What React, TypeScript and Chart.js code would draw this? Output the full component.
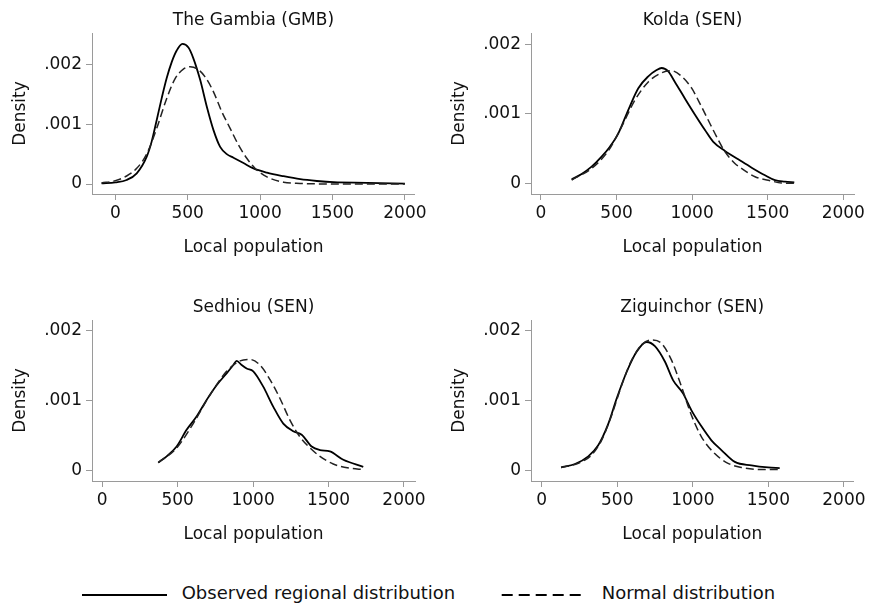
import React, { useEffect, useRef } from 'react';
import { Chart, registerables } from 'chart.js';

Chart.register(...registerables);

// ---------------- data ----------------
const xTickValues = [0, 500, 1000, 1500, 2000];
const yTickValues = [0, 0.001, 0.002];
const yTickLabels = ['0', '.001', '.002'];

const panelTitles = ['The Gambia (GMB)', 'Kolda (SEN)', 'Sedhiou (SEN)', 'Ziguinchor (SEN)'];
const seriesLabels = ['Observed regional distribution', 'Normal distribution'];
const xAxisTitle = 'Local population';
const yAxisTitle = 'Density';

// The Gambia (GMB)
const gmbObsX = [-95, 0, 78, 148, 217, 251, 286, 320, 355, 390, 424, 463, 505, 539, 586, 632, 678, 724, 770, 816, 885, 954, 1047, 1162, 1277, 1392, 1508, 1738, 2000];
const gmbObsY = [0.000011, 0.000028, 0.000067, 0.000178, 0.000457, 0.000708, 0.00107, 0.00143, 0.00177, 0.00204, 0.00223, 0.00234, 0.00228, 0.0021, 0.00174, 0.00129, 0.0009, 0.00062, 0.0005, 0.00044, 0.00035, 0.00026, 0.00019, 0.00013, 0.00008, 0.00005, 0.00003, 0.00002, 0.000005];
const gmbNormX = [-95, 0, 78, 148, 217, 286, 355, 413, 470, 516, 562, 620, 678, 735, 793, 851, 908, 966, 1047, 1162, 1277, 1508, 2000];
const gmbNormY = [0.000017, 0.000056, 0.000134, 0.000262, 0.000502, 0.000931, 0.00143, 0.00176, 0.00192, 0.00196, 0.00193, 0.00179, 0.00154, 0.00121, 0.00093, 0.00065, 0.00043, 0.00026, 0.00012, 0.00003, 0.00001, 0, 0];

// Kolda (SEN)
const koldaObsX = [203, 269, 335, 401, 456, 512, 578, 644, 710, 765, 798, 842, 886, 953, 1019, 1085, 1140, 1217, 1305, 1394, 1482, 1548, 1614, 1676];
const koldaObsY = [0.000062, 0.000139, 0.000244, 0.000388, 0.000531, 0.000722, 0.00106, 0.00137, 0.00154, 0.00163, 0.00166, 0.00161, 0.00146, 0.00122, 0.00099, 0.00077, 0.0006, 0.00047, 0.00035, 0.00023, 0.00012, 0.00005, 0.00003, 0.00002];
const koldaNormX = [203, 335, 445, 534, 622, 710, 798, 864, 931, 997, 1063, 1107, 1151, 1217, 1283, 1327, 1416, 1504, 1592, 1676];
const koldaNormY = [0.000053, 0.00022, 0.00047, 0.00082, 0.0012, 0.00146, 0.00159, 0.00162, 0.00154, 0.00137, 0.0011, 0.00091, 0.00072, 0.00046, 0.00029, 0.00022, 0.0001, 0.00005, 0.00001, 0.000005];

// Sedhiou (SEN)
const sedhiouObsX = [371, 427, 493, 559, 625, 692, 758, 824, 869, 891, 924, 957, 1001, 1067, 1134, 1200, 1266, 1322, 1388, 1443, 1509, 1598, 1730];
const sedhiouObsY = [0.00011, 0.0002, 0.00034, 0.00058, 0.00077, 0.00101, 0.00122, 0.00139, 0.00151, 0.00157, 0.00151, 0.00146, 0.00142, 0.0012, 0.00091, 0.00067, 0.00056, 0.00051, 0.00034, 0.00029, 0.00027, 0.00015, 0.00005];
const sedhiouNormX = [371, 493, 603, 714, 824, 913, 979, 1045, 1112, 1178, 1244, 1310, 1377, 1443, 1531, 1642, 1730];
const sedhiouNormY = [0.00011, 0.00032, 0.00067, 0.00108, 0.00142, 0.00157, 0.00159, 0.00151, 0.0013, 0.00103, 0.00072, 0.00048, 0.00032, 0.0002, 0.00009, 0.00003, 0.00001];

// Ziguinchor (SEN)
const ziguinchorObsX = [128, 220, 308, 374, 441, 496, 562, 628, 694, 749, 815, 870, 936, 991, 1057, 1123, 1189, 1278, 1388, 1498, 1575];
const ziguinchorObsY = [0.00004, 0.00009, 0.0002, 0.00036, 0.00067, 0.00103, 0.00141, 0.0017, 0.00184, 0.00178, 0.00156, 0.00129, 0.0011, 0.00086, 0.00063, 0.00043, 0.00029, 0.00012, 0.00007, 0.00004, 0.00003];
const ziguinchorNormX = [128, 242, 330, 396, 463, 529, 595, 661, 727, 793, 859, 925, 991, 1057, 1145, 1233, 1322, 1454, 1575];
const ziguinchorNormY = [0.00004, 0.0001, 0.00022, 0.00043, 0.00079, 0.00122, 0.00158, 0.0018, 0.00187, 0.00182, 0.00158, 0.0012, 0.00079, 0.00048, 0.00024, 0.0001, 0.00004, 0.00001, 0.00001];

const panelSeries = [
  { obsX: gmbObsX, obsY: gmbObsY, normX: gmbNormX, normY: gmbNormY },
  { obsX: koldaObsX, obsY: koldaObsY, normX: koldaNormX, normY: koldaNormY },
  { obsX: sedhiouObsX, obsY: sedhiouObsY, normX: sedhiouNormX, normY: sedhiouNormY },
  { obsX: ziguinchorObsX, obsY: ziguinchorObsY, normX: ziguinchorNormX, normY: ziguinchorNormY },
];

// ---------------- layout ----------------
const FONT = "'DejaVu Sans', Verdana, sans-serif";
const AXIS_COLOR = '#9a9a9a';
const TEXT_COLOR = '#111';
const Y_AXIS_W = 92;
const TITLE_H = 33;
const X_AXIS_H = 70;
const PAD_R = 15;

// plot area rectangles (page px) and axis ranges
const panelBoxes = [
  { left: 92, top: 33, right: 415, bottom: 194, xMin: -161, xMax: 2069, yMin: -0.000167, yMax: 0.002523 },
  { left: 531, top: 33, right: 854, bottom: 194, xMin: -66, xMax: 2071, yMin: -0.000148, yMax: 0.002162 },
  { left: 92, top: 320, right: 415, bottom: 481, xMin: -68, xMax: 2073, yMin: -0.000154, yMax: 0.002156 },
  { left: 531, top: 320, right: 854, bottom: 481, xMin: -71, xMax: 2064, yMin: -0.000154, yMax: 0.002156 },
];

function toPoints(xs: number[], ys: number[]) {
  return xs.map((x, i) => ({ x, y: ys[i] }));
}

function Panel({ index }: { index: number }) {
  const ref = useRef<HTMLCanvasElement | null>(null);
  const box = panelBoxes[index];
  const s = panelSeries[index];
  const width = Y_AXIS_W + (box.right - box.left) + PAD_R;
  const height = TITLE_H + (box.bottom - box.top) + X_AXIS_H;

  useEffect(() => {
    if (!ref.current) return;
    const chart = new Chart(ref.current, {
      type: 'line',
      data: {
        datasets: [
          {
            label: seriesLabels[1],
            data: toPoints(s.normX, s.normY),
            borderColor: '#222',
            borderWidth: 1.5,
            borderDash: [8, 4],
            pointRadius: 0,
            fill: false,
            cubicInterpolationMode: 'monotone',
          },
          {
            label: seriesLabels[0],
            data: toPoints(s.obsX, s.obsY),
            borderColor: '#000',
            borderWidth: 1.8,
            pointRadius: 0,
            fill: false,
            cubicInterpolationMode: 'monotone',
          },
        ],
      },
      options: {
        responsive: false,
        animation: false,
        devicePixelRatio: 1,
        layout: { padding: { left: 0, top: 0, right: PAD_R, bottom: 0 } },
        plugins: {
          legend: { display: false },
          tooltip: { enabled: false },
          title: {
            display: true,
            text: panelTitles[index],
            fullSize: false,
            color: TEXT_COLOR,
            font: { family: FONT, size: 17, weight: 'normal', lineHeight: 1.1 },
            padding: { top: 11.2, bottom: 3.1 },
          },
        },
        scales: {
          x: {
            type: 'linear',
            min: box.xMin,
            max: box.xMax,
            afterBuildTicks: (axis: any) => {
              axis.ticks = xTickValues.map((v) => ({ value: v }));
            },
            afterFit: (axis: any) => {
              axis.height = X_AXIS_H;
            },
            ticks: {
              color: TEXT_COLOR,
              font: { family: FONT, size: 17 },
              padding: 3,
              maxRotation: 0,
              autoSkip: false,
              callback: (v: any) => String(v),
            },
            grid: { display: true, drawOnChartArea: false, drawTicks: true, tickLength: 6, tickColor: AXIS_COLOR, tickWidth: 1 },
            border: { display: true, color: AXIS_COLOR, width: 1 },
            title: {
              display: true,
              text: xAxisTitle,
              color: TEXT_COLOR,
              font: { family: FONT, size: 17, lineHeight: 1.2 },
              padding: { top: 0, bottom: 6.5 },
            },
          },
          y: {
            type: 'linear',
            min: box.yMin,
            max: box.yMax,
            afterBuildTicks: (axis: any) => {
              axis.ticks = yTickValues.map((v) => ({ value: v }));
            },
            afterFit: (axis: any) => {
              axis.width = Y_AXIS_W;
            },
            ticks: {
              color: TEXT_COLOR,
              font: { family: FONT, size: 17 },
              padding: 4,
              autoSkip: false,
              callback: (v: any) => {
                const i = yTickValues.findIndex((t) => Math.abs(t - v) < 1e-9);
                return i >= 0 ? yTickLabels[i] : '';
              },
            },
            grid: { display: true, drawOnChartArea: false, drawTicks: true, tickLength: 6, tickColor: AXIS_COLOR, tickWidth: 1 },
            border: { display: true, color: AXIS_COLOR, width: 1 },
            title: {
              display: true,
              text: yAxisTitle,
              color: TEXT_COLOR,
              font: { family: FONT, size: 17, lineHeight: 1.2 },
              padding: { top: 10.8, bottom: 0 },
            },
          },
        },
      } as any,
    });
    return () => chart.destroy();
  }, [index]);

  return (
    <canvas
      ref={ref}
      width={width}
      height={height}
      style={{ position: 'absolute', left: box.left - Y_AXIS_W, top: box.top - TITLE_H, width, height }}
    />
  );
}

function Legend() {
  const textStyle: React.CSSProperties = {
    position: 'absolute',
    top: 583.2,
    height: 20,
    lineHeight: '20px',
    fontFamily: FONT,
    fontSize: 18,
    color: TEXT_COLOR,
    whiteSpace: 'nowrap',
  };
  return (
    <>
      <svg width={869} height={30} style={{ position: 'absolute', left: 0, top: 580 }}>
        <line x1={82} y1={15} x2={167} y2={15} stroke="#000" strokeWidth={2} />
        <line x1={501.7} y1={15} x2={586.7} y2={15} stroke="#000" strokeWidth={2} strokeDasharray="11 6" />
      </svg>
      <div style={{ ...textStyle, left: 181.7 }}>{seriesLabels[0]}</div>
      <div style={{ ...textStyle, left: 601.7 }}>{seriesLabels[1]}</div>
    </>
  );
}

export default function App() {
  return (
    <div style={{ position: 'fixed', left: 0, top: 0, width: 869, height: 610, background: '#fff', overflow: 'hidden' }}>
      {panelBoxes.map((_, i) => (
        <Panel key={i} index={i} />
      ))}
      <Legend />
    </div>
  );
}
